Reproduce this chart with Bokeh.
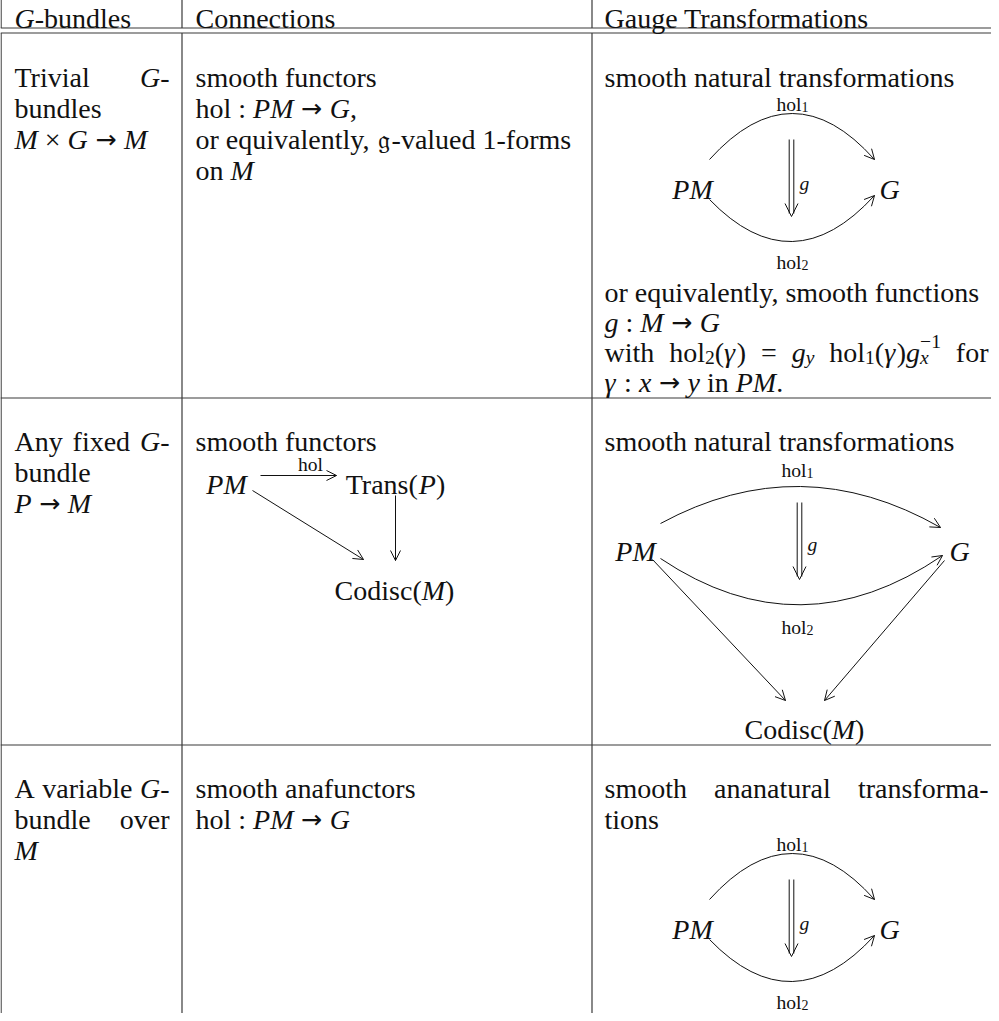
from bokeh.plotting import figure
from bokeh.models import Range1d, ColumnDataSource, Arrow, OpenHead
from bokeh.embed import file_html
from bokeh.resources import INLINE

# ---------------- table content (data) ----------------
HEADERS = [
    [("G", "it"), ("-bundles", "rm")],
    [("Connections", "rm")],
    [("Gauge Transformations", "rm")],
]

ROW1_COL1 = [
    [("Trivial", "rm"), (" ", "sp"), ("G", "it"), ("-", "rm")],
    [("bundles", "rm")],
    [("M", "it"), (" × ", "rm"), ("G", "it"), (" → ", "ar"), ("M", "it")],
]
ROW1_COL2 = [
    [("smooth functors", "rm")],
    [("hol", "rm"), (" : ", "rm"), ("PM", "it"), (" → ", "ar"), ("G", "it"), (",", "rm")],
    [("or equivalently, ", "rm"), ("𝔤", "fk"), ("-valued 1-forms", "rm")],
    [("on ", "rm"), ("M", "it")],
]
ROW1_COL3_TOP = [[("smooth natural transformations", "rm")]]
ROW1_COL3_BOTTOM = [
    [("or equivalently, smooth functions", "rm")],
    [("g", "it"), (" : ", "rm"), ("M", "it"), (" → ", "ar"), ("G", "it")],
    [("with", "rm"), (" ", "sp"), ("hol", "rm"), ("2", "sub"), ("(", "rm"), ("γ", "it"), (")", "rm"),
     (" ", "sp"), ("=", "rm"), (" ", "sp"), ("g", "it"), ("y", "itsub"), (" ", "sp"), ("hol", "rm"),
     ("1", "sub"), ("(", "rm"), ("γ", "it"), (")", "rm"), ("g", "it"), ("x", "itsub!"), ("−1", "sup"),
     (" ", "sp"), ("for", "rm")],
    [("γ", "it"), (" : ", "rm"), ("x", "it"), (" → ", "ar"), ("y", "it"), (" in ", "rm"), ("PM", "it"), (".", "rm")],
]

ROW2_COL1 = [
    [("Any", "rm"), (" ", "sp"), ("fixed", "rm"), (" ", "sp"), ("G", "it"), ("-", "rm")],
    [("bundle", "rm")],
    [("P", "it"), (" → ", "ar"), ("M", "it")],
]
ROW2_COL2 = [[("smooth functors", "rm")]]
ROW2_COL3 = [[("smooth natural transformations", "rm")]]

ROW3_COL1 = [
    [("A", "rm"), (" ", "sp"), ("variable", "rm"), (" ", "sp"), ("G", "it"), ("-", "rm")],
    [("bundle", "rm"), (" ", "sp"), ("over", "rm")],
    [("M", "it")],
]
ROW3_COL2 = [
    [("smooth anafunctors", "rm")],
    [("hol", "rm"), (" : ", "rm"), ("PM", "it"), (" → ", "ar"), ("G", "it")],
]
ROW3_COL3 = [
    [("smooth", "rm"), (" ", "sp"), ("ananatural", "rm"), (" ", "sp"), ("transforma-", "rm")],
    [("tions", "rm")],
]

NODE_PM = [("PM", "it")]
NODE_G = [("G", "it")]
NODE_TRANS = [("Trans(", "rm"), ("P", "it"), (")", "rm")]
NODE_CODISC = [("Codisc(", "rm"), ("M", "it"), (")", "rm")]
LAB_HOL = [("hol", "lab")]
LAB_HOL1 = [("hol", "lab"), ("1", "labsub")]
LAB_HOL2 = [("hol", "lab"), ("2", "labsub")]
LAB_G = [("g", "labit")]

# ---------------- styles / metrics ----------------
INK = "#111111"
RULE = "#3a3a3a"
S = 28
FONT = "Liberation Serif"
LW = 1.0

ROMAN_W = {
    ' ': .25, '(': .333, ')': .333, ',': .25, '-': .333, '.': .25, ':': .278, '=': .564,
    '×': .564, '−': .564, '0': .5, '1': .5, '2': .5,
    'A': .722, 'C': .667, 'G': .722, 'M': .889, 'P': .556, 'T': .611,
    'a': .444, 'b': .5, 'c': .444, 'd': .5, 'e': .444, 'f': .333, 'g': .5, 'h': .5, 'i': .278,
    'j': .278, 'k': .5, 'l': .278, 'm': .778, 'n': .5, 'o': .5, 'p': .5, 'q': .5, 'r': .333,
    's': .389, 't': .278, 'u': .5, 'v': .5, 'w': .722, 'x': .5, 'y': .5, 'z': .444,
}
ITALIC_W = {'G': .722, 'M': .833, 'P': .611, 'g': .5, 'x': .444, 'y': .444, 'γ': .45}
FRAK_W = {'𝔤': .5}
ARROW_W = {' ': .30, '→': .838}

KIND = {
    'rm': (FONT, 'normal', 1.0, 0.0, ROMAN_W),
    'it': (FONT, 'italic', 1.0, 0.0, ITALIC_W),
    'ar': ("DejaVu Sans", 'normal', 0.9, 0.0, ARROW_W),
    'fk': ("DejaVu Serif", 'normal', 0.95, 0.0, FRAK_W),
    'sub': (FONT, 'normal', 0.7, 0.17, ROMAN_W),
    'itsub': (FONT, 'italic', 0.7, 0.17, ITALIC_W),
    'sup': (FONT, 'normal', 0.7, -0.38, ROMAN_W),
    'lab': (FONT, 'normal', 0.7, 0.0, ROMAN_W),
    'labit': (FONT, 'italic', 0.7, 0.0, ITALIC_W),
    'labsub': (FONT, 'normal', 0.5, 0.1, ROMAN_W),
}

T = dict(x=[], y=[], text=[], font=[], style=[], size=[])


def seg_width(text, kind):
    k = kind.rstrip('!')
    if k == 'sp':
        return ROMAN_W[' '] * S
    font, style, sc, sh, tab = KIND[k]
    return sum(tab.get(ch, ROMAN_W.get(ch, 0.5)) for ch in text) * S * sc


def natural_width(segs):
    total, pending = 0.0, None
    for text, kind in segs:
        w = seg_width(text, kind)
        if kind.endswith('!'):
            pending = w
            continue
        if pending is not None:
            w = max(w, pending)
            pending = None
        total += w
    return total


def put(segs, x, y, align='left', right=None):
    nat = natural_width(segs)
    nglue = sum(1 for _, k in segs if k == 'sp')
    extra = 0.0
    if right is not None and nglue:
        extra = max(0.0, (right - x - nat) / nglue)
    if align == 'center':
        x -= nat / 2
    elif align == 'right':
        x -= nat
    cur, pending = x, None
    for text, kind in segs:
        k = kind.rstrip('!')
        w = seg_width(text, kind)
        if k == 'sp':
            cur += w + extra
            continue
        font, style, sc, sh, tab = KIND[k]
        lead = len(text) - len(text.lstrip(' '))
        body = text.strip(' ')
        ox = seg_width(text[:lead], k) if lead else 0.0
        T['x'].append(cur + ox)
        T['y'].append(y + sh * S)
        T['text'].append(body)
        T['font'].append(font)
        T['style'].append(style)
        T['size'].append(f"{S * sc:.2f}px")
        if kind.endswith('!'):
            pending = w
            continue
        if pending is not None:
            w = max(w, pending)
            pending = None
        cur += w


# ---------------- layout ----------------
# the figure is pulled up/right with negative margins so that data units equal
# the reference picture's pixels over the whole 999 x 1021 window
W, H = 991, 1018
X0, Y0 = 8, 3
COL_X = [22, 203, 612]
COL_R = [177, 587, 996]
LS = 31
HEAD_Y = 26
R1, R2, R3 = 85, 449, 796
CAP = 0.33 * S

p = figure(width=W, height=H, x_range=Range1d(X0, X0 + W), y_range=Range1d(Y0 + H, Y0),
           output_backend="svg", toolbar_location=None, min_border=0,
           x_axis_location=None, y_axis_location=None)
p.margin = (-5, -8, -8, 0)
p.grid.visible = False
p.outline_line_color = None
p.background_fill_color = "white"
p.border_fill_color = "white"

# table rules
hy = [3.5, 35.5, 40.5, 405.5, 752.5]
p.segment(x0=[X0] * len(hy), y0=hy, x1=[X0 + W] * len(hy), y1=hy, line_color=RULE, line_width=1.2)
vx = [8.6, 189.5, 599.5]
p.segment(x0=vx, y0=[3] * 3, x1=vx, y1=[35.5] * 3, line_color=RULE, line_width=1.2)
p.segment(x0=vx, y0=[40.5] * 3, x1=vx, y1=[Y0 + H] * 3, line_color=RULE, line_width=1.2)

# header
for c, segs in enumerate(HEADERS):
    put(segs, COL_X[c], HEAD_Y)


def cell(lines, col, y0, just=(), step=LS):
    for i, segs in enumerate(lines):
        put(segs, COL_X[col], y0 + i * step, right=COL_R[col] if i in just else None)


cell(ROW1_COL1, 0, R1, just=(0,))
cell(ROW1_COL2, 1, R1)
cell(ROW1_COL3_TOP, 2, R1)
cell(ROW1_COL3_BOTTOM, 2, 300, just=(2,), step=30)
cell(ROW2_COL1, 0, R2, just=(0,))
cell(ROW2_COL2, 1, R2)
cell(ROW2_COL3, 2, R2)
cell(ROW3_COL1, 0, R3, just=(0, 1))
cell(ROW3_COL2, 1, R3)
cell(ROW3_COL3, 2, R3, just=(0,))

QX0, QY0, QX1, QY1, QCX, QCY = [], [], [], [], [], []
SX0, SY0, SX1, SY1 = [], [], [], []


def head(x, y, dx, dy, size=10):
    n = (dx * dx + dy * dy) ** 0.5
    p.add_layout(Arrow(end=OpenHead(size=size, line_width=LW, line_color=INK),
                       x_start=x - dx / n * 3, y_start=y - dy / n * 3, x_end=x, y_end=y,
                       line_alpha=0))


def arc(x0, y0, x1, y1, cx, cy):
    QX0.append(x0); QY0.append(y0); QX1.append(x1); QY1.append(y1); QCX.append(cx); QCY.append(cy)
    head(x1, y1, x1 - cx, y1 - cy)


def arrow(x0, y0, x1, y1):
    SX0.append(x0); SY0.append(y0); SX1.append(x1); SY1.append(y1)
    head(x1, y1, x1 - x0, y1 - y0)


def double_arrow(x, ya, yb):
    for off in (-2.3, 2.3):
        SX0.append(x + off); SY0.append(ya); SX1.append(x + off); SY1.append(yb - 3)
    head(x, yb, 0, 1, size=13)


def two_arc(C):
    xl, xr, xm = 700, 897, 800
    put(NODE_PM, xl, C + CAP, 'center')
    put(NODE_G, xr, C + CAP, 'center')
    put(LAB_HOL1, xm, C - 76, 'center')
    put(LAB_HOL2, xm, C + 82, 'center')
    arc(717, C - 21, 882, C - 21, xm, C - 113)
    arc(717, C + 19, 882, C + 15, xm, C + 105)
    double_arrow(799, C - 41, C + 36)
    put(LAB_G, 807, C + 3)


two_arc(188)
two_arc(928)

# row 2, connections diagram
put(NODE_PM, 234, 483 + CAP, 'center')
put(NODE_TRANS, 403, 483 + CAP, 'center')
put(NODE_CODISC, 402, 589 + CAP, 'center')
put(LAB_HOL, 318, 472, 'center')
arrow(268, 483, 344, 483)
arrow(403, 503, 403, 568)
arrow(260, 498, 371, 567)

# row 2, gauge diagram
put(NODE_PM, 643, 550 + CAP, 'center')
put(NODE_G, 967, 550 + CAP, 'center')
put(LAB_HOL1, 805, 478, 'center')
put(LAB_HOL2, 805, 635, 'center')
arc(668, 531, 948, 535, 808, 455)
arc(668, 566, 950, 563, 808, 660)
double_arrow(807, 510, 587)
put(LAB_G, 815, 552)
arrow(660, 567, 793, 708)
arrow(952, 568, 832, 708)
put(NODE_CODISC, 812, 728 + CAP, 'center')

p.quadratic(x0=QX0, y0=QY0, x1=QX1, y1=QY1, cx=QCX, cy=QCY, line_color=INK, line_width=LW)
p.segment(x0=SX0, y0=SY0, x1=SX1, y1=SY1, line_color=INK, line_width=LW)

src = ColumnDataSource(T)
p.text(x='x', y='y', text='text', source=src, text_font='font', text_font_style='style',
       text_font_size='size', text_baseline='alphabetic', text_align='left', text_color=INK)

open("out.html", "w").write(file_html(p, INLINE))
